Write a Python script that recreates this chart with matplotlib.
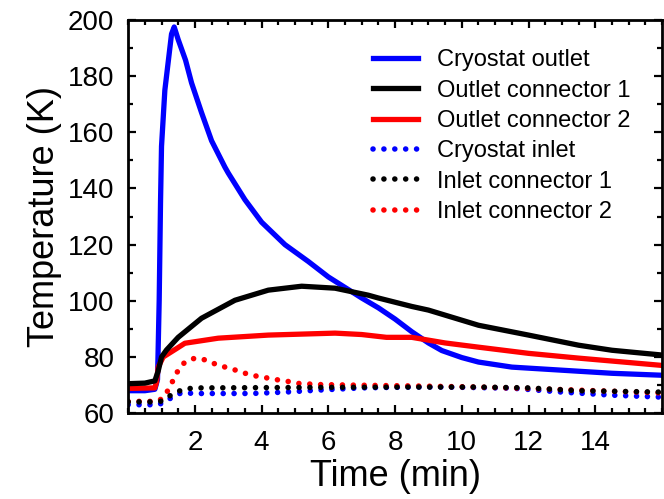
import matplotlib.pyplot as plt
import numpy as np
from matplotlib.ticker import MultipleLocator

plt.rcParams['font.family'] = ['Liberation Sans', 'DejaVu Sans']

# Cryostat outlet
t_co = [0, 0.5, 0.8, 0.88, 0.93, 0.97, 1.0, 1.1, 1.2, 1.3, 1.38, 1.5, 1.72, 1.9, 2.2, 2.5, 2.9,
        3.0, 3.5, 4.0, 4.7, 5.4, 6.0, 6.6, 7.0, 7.5, 8.0, 8.5, 9.0, 9.4, 10.0, 10.5, 11.5, 13.0, 14.5, 16]
T_co = [68, 68, 68.5, 72, 100, 135, 155, 175, 185, 195, 197.5, 193, 185.7, 177.6, 167, 157, 147.6,
        145.5, 136, 128, 120, 114, 108.5, 104, 101, 97.5, 93.5, 89, 85, 82.3, 79.8, 78.2, 76.4, 75.3, 74.2, 73.5]

# Outlet connector 1
t_oc1 = [0, 0.5, 0.8, 0.9, 1.0, 1.15, 1.5, 2.2, 3.2, 4.2, 5.2, 6.2, 7.2, 7.5, 8.5, 9.0, 10.5, 12, 13.5, 14.5, 16]
T_oc1 = [70.5, 70.7, 71.5, 75, 80, 82.5, 87, 93.8, 100.2, 103.8, 105.2, 104.5, 102, 101, 98, 96.7, 91.3, 87.8, 84.2, 82.4, 80.7]

# Outlet connector 2
t_oc2 = [0, 0.8, 0.85, 0.9, 1.05, 1.45, 1.7, 2.7, 4.2, 6.2, 7.0, 7.74, 8.5, 9.5, 10.5, 12, 13.5, 16]
T_oc2 = [68.8, 69, 71, 76.4, 80, 83, 84.9, 86.7, 87.8, 88.5, 88, 87, 87, 85, 83.5, 81.3, 79.6, 77]

# Cryostat inlet
t_ci = [0, 0.9, 1.0, 1.27, 1.6, 2.0, 3.7, 4.7, 5.7, 7.0, 8.5, 9.5, 11.5, 13.0, 14.5, 16]
T_ci = [63, 63, 63.5, 65.3, 67.3, 67, 67, 67.5, 68.2, 69, 69.3, 69.3, 68.9, 67.5, 66.4, 65.7]

# Inlet connector 1
t_ic1 = [0, 0.9, 1.05, 1.35, 1.7, 2.2, 8.5, 10.5, 12, 13.5, 16]
T_ic1 = [64, 64, 64.5, 67, 68.7, 69, 69.3, 69.3, 69, 68, 67.5]

# Inlet connector 2
t_ic2 = [0, 0.8, 1.0, 1.2, 1.35, 1.5, 1.7, 2.0, 2.35, 2.7, 3.05, 3.4, 3.7, 4.05, 4.4, 4.7, 5.1, 5.7,
         6.7, 8.5, 10.5, 12, 14, 16]
T_ic2 = [64.2, 64.2, 65, 68.2, 71.8, 75.3, 78.2, 79.6, 78.9, 77, 76, 74.6, 73.5, 72.8, 72, 71.5, 70.6, 70.2,
         70, 69.7, 69.3, 68.8, 68, 67.2]

fig = plt.figure(figsize=(6.64, 4.99), dpi=100)
ax = fig.add_axes([0.193, 0.172, 0.804, 0.788])

dots = (0, (0.01, 1.95))
ax.plot(t_ci, T_ci, color='blue', lw=4.0, ls=dots, dash_capstyle='round', label='Cryostat inlet')
ax.plot(t_ic2, T_ic2, color='red', lw=4.0, ls=dots, dash_capstyle='round', label='Inlet connector 2')
ax.plot(t_ic1, T_ic1, color='black', lw=4.0, ls=dots, dash_capstyle='round', label='Inlet connector 1')
ax.plot(t_co, T_co, color='blue', lw=3.8, label='Cryostat outlet')
ax.plot(t_oc2, T_oc2, color='red', lw=3.8, label='Outlet connector 2')
ax.plot(t_oc1, T_oc1, color='black', lw=3.8, label='Outlet connector 1')

ax.set_xlim(0, 16)
ax.set_ylim(60, 200)
ax.set_xticks([2, 4, 6, 8, 10, 12, 14])
ax.xaxis.set_minor_locator(MultipleLocator(0.5))
ax.yaxis.set_major_locator(MultipleLocator(20))
ax.yaxis.set_minor_locator(MultipleLocator(10))
ax.tick_params(which='both', direction='in', top=True, right=True, width=1.6)
ax.tick_params(which='major', length=6, labelsize=20)
ax.tick_params(which='minor', length=3.5)
ax.tick_params(axis='x', which='major', pad=12)
ax.tick_params(axis='y', which='major', pad=10)
for s in ax.spines.values():
    s.set_linewidth(2)

ax.set_xlabel('Time (min)', fontsize=26, labelpad=2)
ax.set_ylabel('Temperature (K)', fontsize=26, labelpad=4)

h, l = ax.get_legend_handles_labels()
order = [3, 5, 4, 0, 2, 1]
ax.legend([h[i] for i in order], [l[i] for i in order], loc='upper left',
          bbox_to_anchor=(0.459, 0.925), frameon=False, fontsize=17,
          handlelength=1.9, handletextpad=0.8, labelspacing=0.35,
          borderpad=0, borderaxespad=0)

fig.savefig('out.png', dpi=100)
